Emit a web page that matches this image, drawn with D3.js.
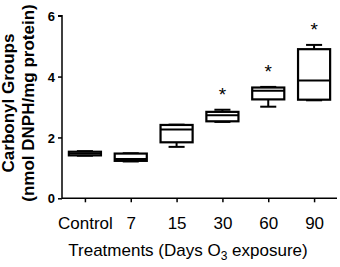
<!DOCTYPE html>
<html>
<head>
<meta charset="utf-8">
<script src="https://cdn.jsdelivr.net/npm/d3@7"></script>
<style>
  body { margin: 0; background: #fff; }
  text { font-family: Arial, "Liberation Sans", sans-serif; fill: #000; }
</style>
</head>
<body>
<div id="chart"></div>
<script>
const categories = ["Control", "7", "15", "30", "60", "90"];
const maxV   = [1.55, 1.48, 2.42, 2.91, 3.66, 5.04];
const q3     = [1.53, 1.47, 2.41, 2.84, 3.64, 4.90];
const median = [1.47, 1.29, 2.26, 2.73, 3.53, 3.87];
const q1     = [1.41, 1.23, 1.84, 2.53, 3.25, 3.24];
const minV   = [1.40, 1.21, 1.69, 2.51, 3.01, 3.22];
const significant = [false, false, false, true, true, true];
const yTicks = [0, 2, 4, 6];

const width = 340;
const height = 267;

const svg = d3.select("#chart")
    .append("svg")
    .attr("width", width)
    .attr("height", height);

const x = d3.scalePoint()
    .domain(categories)
    .range([62, 337])
    .padding(0.5);

const y = d3.scaleLinear()
    .domain([0, 6])
    .range([198.3, 15.7]);

const boxW = x.step() * 0.7;
const capW = boxW * 0.5;

const data = categories.map((c, i) => ({
    cat: c, max: maxV[i], q3: q3[i], med: median[i], q1: q1[i], min: minV[i], sig: significant[i]
}));

// y axis
const yAxis = svg.append("g")
    .attr("transform", "translate(62,0)")
    .call(d3.axisLeft(y).tickValues(yTicks).tickFormat(d3.format("d")).tickSize(4).tickPadding(3));
yAxis.select(".domain").attr("stroke", "#000").attr("stroke-width", 1.5)
    .attr("d", `M-4,${y(6)}H0V${y(0)}`);
yAxis.selectAll(".tick line").attr("stroke", "#000").attr("stroke-width", 1.5);
yAxis.selectAll(".tick text")
    .style("font-size", "13px")
    .style("font-weight", "bold")
    .attr("dy", "0.36em");

// x axis
const xAxis = svg.append("g")
    .attr("transform", `translate(0,${y(0)})`)
    .call(d3.axisBottom(x).tickSize(4).tickPadding(15));
xAxis.select(".domain").attr("stroke", "#000").attr("stroke-width", 1.5)
    .attr("d", `M62,0H337`);
xAxis.selectAll(".tick line").attr("stroke", "#000").attr("stroke-width", 1.5);
xAxis.selectAll(".tick text").style("font-size", "17px");

// boxes
const boxes = svg.append("g").selectAll("g")
    .data(data)
    .enter()
    .append("g");

boxes.append("line")
    .attr("x1", d => x(d.cat)).attr("x2", d => x(d.cat))
    .attr("y1", d => y(d.max)).attr("y2", d => y(d.q3))
    .attr("stroke", "#000").attr("stroke-width", 2);
boxes.append("line")
    .attr("x1", d => x(d.cat)).attr("x2", d => x(d.cat))
    .attr("y1", d => y(d.q1)).attr("y2", d => y(d.min))
    .attr("stroke", "#000").attr("stroke-width", 2);
boxes.append("line")
    .attr("x1", d => x(d.cat) - capW / 2).attr("x2", d => x(d.cat) + capW / 2)
    .attr("y1", d => y(d.max)).attr("y2", d => y(d.max))
    .attr("stroke", "#000").attr("stroke-width", 2);
boxes.append("line")
    .attr("x1", d => x(d.cat) - capW / 2).attr("x2", d => x(d.cat) + capW / 2)
    .attr("y1", d => y(d.min)).attr("y2", d => y(d.min))
    .attr("stroke", "#000").attr("stroke-width", 2);
boxes.append("rect")
    .attr("x", d => x(d.cat) - boxW / 2)
    .attr("width", boxW)
    .attr("y", d => y(d.q3))
    .attr("height", d => y(d.q1) - y(d.q3))
    .attr("fill", "#fff")
    .attr("stroke", "#000").attr("stroke-width", 2.2);
boxes.append("line")
    .attr("x1", d => x(d.cat) - boxW / 2).attr("x2", d => x(d.cat) + boxW / 2)
    .attr("y1", d => y(d.med)).attr("y2", d => y(d.med))
    .attr("stroke", "#000").attr("stroke-width", 2);

// significance stars
boxes.filter(d => d.sig)
    .append("text")
    .attr("x", d => x(d.cat))
    .attr("y", d => y(d.max) - 9)
    .attr("text-anchor", "middle")
    .style("font-size", "19px")
    .text("*");

// axis titles
const yTitle = svg.append("text")
    .attr("transform", `translate(14,103) rotate(-90)`)
    .attr("text-anchor", "middle")
    .style("font-size", "17px")
    .style("font-weight", "bold");
yTitle.append("tspan").attr("x", 0).attr("dy", 0).text("Carbonyl Groups");
yTitle.append("tspan").attr("x", 0).attr("dy", 20).text("(nmol DNPH/mg protein)");

const xTitle = svg.append("text")
    .attr("x", 188)
    .attr("y", 256)
    .attr("text-anchor", "middle")
    .style("font-size", "17px");
xTitle.append("tspan").text("Treatments (Days O");
xTitle.append("tspan").attr("dy", 4).style("font-size", "12px").text("3");
xTitle.append("tspan").attr("dy", -4).text(" exposure)");
</script>
</body>
</html>
